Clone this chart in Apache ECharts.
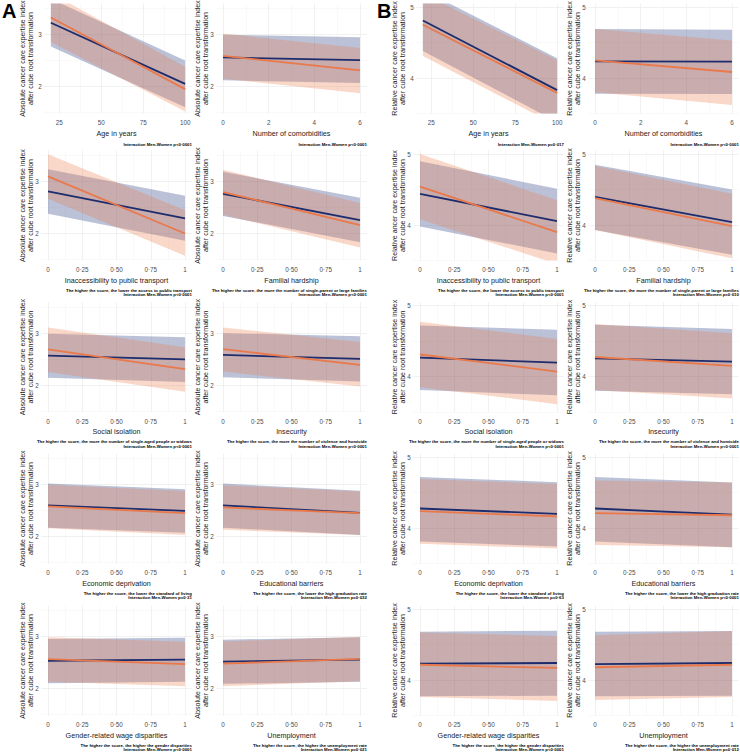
<!DOCTYPE html>
<html><head><meta charset="utf-8">
<script src="https://cdn.jsdelivr.net/npm/echarts@6/dist/echarts.min.js"></script>
<style>html,body{margin:0;padding:0;background:#fff}#c{width:740px;height:754px}</style>
</head><body><div id="c"></div>
<script>
// ---------- DATA (panels in row-major order: A-left, A-right, B-left, B-right) ----------
const ageTicks = [25, 50, 75, 100];
const comorbTicks = [0, 2, 4, 6];
const scoreTicks = [0, 0.25, 0.5, 0.75, 1];
const scoreTickLabels = ['0', '0·25', '0·50', '0·75', '1'];
const absTicks = [2, 3];
const relTicks = [4, 5];

const panelX = [
  [20, 100], [0, 6], [20, 100], [0, 6],
  [0, 1], [0, 1], [0, 1], [0, 1],
  [0, 1], [0, 1], [0, 1], [0, 1],
  [0, 1], [0, 1], [0, 1], [0, 1],
  [0, 1], [0, 1], [0, 1], [0, 1]
];
const navyFit = [
  [3.23, 2.05], [2.56, 2.51], [4.81, 3.83], [4.235, 4.23],
  [2.81, 2.29], [2.765, 2.26], [4.44, 4.055], [4.395, 4.04],
  [2.565, 2.495], [2.58, 2.505], [4.265, 4.195], [4.255, 4.21],
  [2.60, 2.495], [2.60, 2.455], [4.275, 4.20], [4.275, 4.19],
  [2.535, 2.555], [2.52, 2.555], [4.23, 4.24], [4.225, 4.24]
];
const navyLow = [
  [2.77, 1.60], [2.12, 2.07], [4.38, 3.38], [3.78, 3.775],
  [2.38, 1.86], [2.34, 1.83], [3.98, 3.60], [3.93, 3.58],
  [2.14, 2.06], [2.15, 2.07], [3.81, 3.735], [3.80, 3.75],
  [2.17, 2.075], [2.17, 2.03], [3.81, 3.74], [3.81, 3.73],
  [2.10, 2.13], [2.09, 2.13], [3.77, 3.78], [3.77, 3.78]
];
const navyHigh = [
  [3.69, 2.50], [3.00, 2.95], [5.24, 4.28], [4.69, 4.68],
  [3.24, 2.73], [3.19, 2.69], [4.90, 4.51], [4.85, 4.50],
  [2.99, 2.92], [3.00, 2.94], [4.72, 4.66], [4.73, 4.67],
  [3.02, 2.91], [3.02, 2.88], [4.72, 4.645], [4.72, 4.64],
  [2.955, 2.98], [2.94, 2.99], [4.68, 4.695], [4.68, 4.69]
];
const orangeFit = [
  [3.33, 1.95], [2.59, 2.31], [4.75, 3.79], [4.25, 4.085],
  [3.10, 2.00], [2.80, 2.16], [4.54, 3.90], [4.38, 3.985],
  [2.685, 2.305], [2.69, 2.39], [4.31, 4.07], [4.275, 4.15],
  [2.58, 2.45], [2.56, 2.45], [4.237, 4.165], [4.21, 4.18],
  [2.565, 2.47], [2.48, 2.57], [4.215, 4.17], [4.18, 4.215]
];
const orangeLow = [
  [2.86, 1.52], [2.15, 1.87], [4.31, 3.33], [3.80, 3.62],
  [2.67, 1.57], [2.36, 1.73], [4.08, 3.45], [3.93, 3.53],
  [2.25, 1.87], [2.26, 1.97], [3.85, 3.61], [3.81, 3.69],
  [2.16, 2.03], [2.13, 2.03], [3.78, 3.71], [3.76, 3.73],
  [2.13, 2.045], [2.045, 2.14], [3.76, 3.705], [3.72, 3.76]
];
const orangeHigh = [
  [3.80, 2.38], [3.02, 2.74], [5.19, 4.25], [4.69, 4.53],
  [3.53, 2.45], [3.23, 2.59], [5.00, 4.35], [4.83, 4.44],
  [3.11, 2.73], [3.11, 2.83], [4.77, 4.53], [4.74, 4.61],
  [3.00, 2.875], [2.99, 2.87], [4.69, 4.62], [4.67, 4.64],
  [2.99, 2.90], [2.905, 3.00], [4.67, 4.62], [4.63, 4.69]
];

const xTitles = [
  'Age in years', 'Number of comorbidities', 'Age in years', 'Number of comorbidities',
  'Inaccessibility to public transport', 'Familial hardship', 'Inaccessibility to public transport', 'Familial hardship',
  'Social isolation', 'Insecurity', 'Social isolation', 'Insecurity',
  'Economic deprivation', 'Educational barriers', 'Economic deprivation', 'Educational barriers',
  'Gender-related wage disparities', 'Unemployment', 'Gender-related wage disparities', 'Unemployment'
];
const absTitle = 'Absolute cancer care expertise index';
const relTitle = 'Relative cancer care expertise index';
const yTitleTop = [
  absTitle, absTitle, relTitle, relTitle,
  'Absolute ancer care expertise index', absTitle, 'Relative ancer care expertise index', relTitle,
  absTitle, absTitle, relTitle, relTitle,
  absTitle, absTitle, relTitle, relTitle,
  absTitle, absTitle, relTitle, relTitle
];
const yTitleBottom = 'after cube root transformation';
const notes = [
  '', '', '', '',
  'The higher the score, the lower the access to public transport', 'The higher the score, the more the number of single-parent or large families',
  'The higher the score, the lower the access to public transport', 'The higher the score, the more the number of single-parent or large families',
  'The higher the score, the more the number of single-aged people or widows', 'The higher the score, the more the number of violence and homicide',
  'The higher the score, the more the number of single-aged people or widows', 'The higher the score, the more the number of violence and homicide',
  'The higher the score, the lower the standard of living', 'The higher the score, the lower the high graduation rate',
  'The higher the score, the lower the standard of living', 'The higher the score, the lower the high graduation rate',
  'The higher the score, the higher the gender disparities', 'The higher the score, the higher the unemployment rate',
  'The higher the score, the higher the gender disparities', 'The higher the score, the higher the unemployment rate'
];
const pValues = [
  'p<0·0001', 'p<0·0001', 'p=0·017', 'p<0·0001',
  'p<0·0001', 'p<0·0001', 'p<0·0001', 'p=0·010',
  'p<0·0001', 'p<0·0001', 'p<0·0001', 'p<0·0001',
  'p=0·31', 'p=0·032', 'p=0·63', 'p<0·0001',
  'p<0·0001', 'p=0·021', 'p<0·0001', 'p=0·012'
];
const panelLetters = ['A', 'B'];

// ---------- LAYOUT / STYLE ----------
const FONT = "'Liberation Sans', Arial, Helvetica, sans-serif";
const colLeft = [41.15, 216.15, 413.15, 588.15];
const plotW = 150.7;
const rowTop = [3.5, 150.5, 302, 453.5, 605.5];
const plotH = 110;
const NAVY = '#1d2c6c', ORANGE = '#e9794b';
const NAVY_BAND = 'rgba(30,50,120,0.30)', ORANGE_BAND = 'rgba(235,125,80,0.30)';
const GRID_MAJOR = '#ebebeb', GRID_MINOR = '#f3f3f3';
const absRange = [1.48, 3.6], relRange = [3.5, 5.05];
const minorX = { age: [37.5, 62.5, 87.5], comorb: [1, 3, 5], score: [0.125, 0.375, 0.625, 0.875] };
const minorYAbs = [1.5, 2.5, 3.5], minorYRel = [3.5, 4.5];

const chart = echarts.init(document.getElementById('c'), null, { renderer: 'svg', width: 740, height: 754 });

function bandRenderer(fill) {
  return function (params, api) {
    if (params.dataIndexInside !== 0) return null;
    const x0 = api.value(0, 0), lo0 = api.value(1, 0), hi0 = api.value(2, 0);
    const x1 = api.value(0, 1), lo1 = api.value(1, 1), hi1 = api.value(2, 1);
    const pts = [api.coord([x0, hi0]), api.coord([x1, hi1]), api.coord([x1, lo1]), api.coord([x0, lo0])];
    return { type: 'polygon', shape: { points: pts }, style: { fill: fill }, silent: true };
  };
}

const grids = [], xAxes = [], yAxes = [], series = [], graphics = [];
for (let i = 0; i < 20; i++) {
  const r = Math.floor(i / 4), c = i % 4;
  const kind = r === 0 ? (c % 2 === 0 ? 'age' : 'comorb') : 'score';
  const isRel = c >= 2;
  let left = colLeft[c], width = plotW;
  if (kind === 'age') { left += 3; width -= 3; }
  const top = rowTop[r];
  grids.push({ left: left, top: top, width: width, height: plotH, containLabel: false, outerBoundsMode: 'none' });

  const xt = kind === 'age' ? ageTicks : kind === 'comorb' ? comorbTicks : scoreTicks;
  const xl = kind === 'age' ? ageTicks.map(String) : kind === 'comorb' ? comorbTicks.map(String) : scoreTickLabels;
  const dom = panelX[i];
  const pad = (dom[1] - dom[0]) * 0.05;
  const xMin = dom[0] - pad, xMax = dom[1] + pad;
  const yt = isRel ? relTicks : absTicks;
  const yr = isRel ? relRange : absRange;

  xAxes.push({
    type: 'value', gridIndex: i, min: xMin, max: xMax, position: 'bottom',
    axisLine: { show: false }, axisTick: { show: false, customValues: xt },
    axisLabel: {
      customValues: xt, margin: 6, fontSize: 6.3, color: '#4d4d4d', fontFamily: FONT,
      formatter: function (v) { const k = xt.findIndex(t => Math.abs(t - v) < 1e-9); return k >= 0 ? xl[k] : ''; }
    },
    splitLine: { show: true, lineStyle: { color: GRID_MAJOR, width: 0.7 } }
  });
  xAxes.push({
    type: 'value', gridIndex: i, min: xMin, max: xMax, position: 'top',
    axisLine: { show: false }, axisTick: { show: false, customValues: minorX[kind] },
    axisLabel: { show: false },
    splitLine: { show: true, lineStyle: { color: GRID_MINOR, width: 0.5 } }
  });
  yAxes.push({
    type: 'value', gridIndex: i, min: yr[0], max: yr[1], position: 'left',
    axisLine: { show: false }, axisTick: { show: false, customValues: yt },
    axisLabel: { customValues: yt, margin: 2.5, fontSize: 6.3, color: '#4d4d4d', fontFamily: FONT },
    splitLine: { show: true, lineStyle: { color: GRID_MAJOR, width: 0.7 } }
  });
  yAxes.push({
    type: 'value', gridIndex: i, min: yr[0], max: yr[1], position: 'right',
    axisLine: { show: false }, axisTick: { show: false, customValues: isRel ? minorYRel : minorYAbs },
    axisLabel: { show: false },
    splitLine: { show: true, lineStyle: { color: GRID_MINOR, width: 0.5 } }
  });

  const xi = 2 * i, yi = 2 * i;
  series.push({
    type: 'custom', xAxisIndex: xi, yAxisIndex: yi, clip: true, silent: true,
    renderItem: bandRenderer(NAVY_BAND), encode: { x: 0, y: [1, 2] },
    data: [[dom[0], navyLow[i][0], navyHigh[i][0]], [dom[1], navyLow[i][1], navyHigh[i][1]]]
  });
  series.push({
    type: 'custom', xAxisIndex: xi, yAxisIndex: yi, clip: true, silent: true,
    renderItem: bandRenderer(ORANGE_BAND), encode: { x: 0, y: [1, 2] },
    data: [[dom[0], orangeLow[i][0], orangeHigh[i][0]], [dom[1], orangeLow[i][1], orangeHigh[i][1]]]
  });
  series.push({
    type: 'line', xAxisIndex: xi, yAxisIndex: yi, showSymbol: false, symbol: 'none', silent: true,
    lineStyle: { color: NAVY, width: 1.8 },
    data: [[dom[0], navyFit[i][0]], [dom[1], navyFit[i][1]]]
  });
  series.push({
    type: 'line', xAxisIndex: xi, yAxisIndex: yi, showSymbol: false, symbol: 'none', silent: true,
    lineStyle: { color: ORANGE, width: 1.8 },
    data: [[dom[0], orangeFit[i][0]], [dom[1], orangeFit[i][1]]]
  });

  // texts
  const pl = colLeft[c], pr = colLeft[c] + plotW, bottom = top + plotH;
  const midY = top + plotH / 2;
  const txt = (x, y, text, opt) => graphics.push({
    type: 'text', x: x, y: y, rotation: opt.rot || 0, silent: true,
    style: {
      text: text, fill: opt.fill || '#1a1a1a', fontSize: opt.size, fontFamily: FONT,
      fontWeight: opt.weight || 'normal',
      align: opt.align || 'center', textAlign: opt.align || 'center',
      verticalAlign: 'middle', textVerticalAlign: 'middle'
    }
  });
  txt(pl - 18, midY, yTitleTop[i], { size: 7.1, rot: Math.PI / 2 });
  txt(pl - 10.5, midY, yTitleBottom, { size: 7.1, rot: Math.PI / 2 });
  txt((pl + pr) / 2, bottom + 19.8, xTitles[i], { size: 7.2 });
  if (notes[i]) {
    txt(pr, bottom + 29.6, notes[i], { size: 4.3, weight: 'bold', align: 'right', fill: '#000' });
    txt(pr, bottom + 34, 'Interaction Men-Women ' + pValues[i], { size: 4.3, weight: 'bold', align: 'right', fill: '#000' });
  } else {
    txt(pr, bottom + 30.5, 'Interaction Men-Women ' + pValues[i], { size: 4.3, weight: 'bold', align: 'right', fill: '#000' });
  }
}
graphics.push({ type: 'text', x: 2, y: 10.5, silent: true,
  style: { text: panelLetters[0], fill: '#000', fontSize: 20, fontWeight: 'bold', fontFamily: FONT, align: 'left', textAlign: 'left', verticalAlign: 'middle', textVerticalAlign: 'middle' } });
graphics.push({ type: 'text', x: 377, y: 10.5, silent: true,
  style: { text: panelLetters[1], fill: '#000', fontSize: 20, fontWeight: 'bold', fontFamily: FONT, align: 'left', textAlign: 'left', verticalAlign: 'middle', textVerticalAlign: 'middle' } });

chart.setOption({
  animation: false,
  backgroundColor: '#ffffff',
  grid: grids,
  xAxis: xAxes,
  yAxis: yAxes,
  series: series,
  graphic: { elements: graphics }
});
</script>
</body></html>
